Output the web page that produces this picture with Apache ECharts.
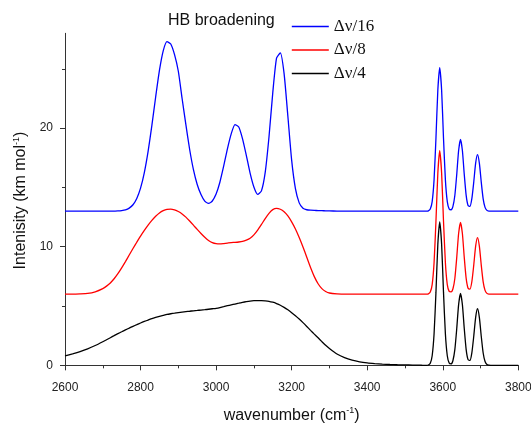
<!DOCTYPE html>
<html><head><meta charset="utf-8">
<script src="https://cdn.jsdelivr.net/npm/echarts@6/dist/echarts.min.js"></script>
<style>html,body{margin:0;padding:0;background:#fff}#c{width:531px;height:423px}</style>
</head><body><div id="c"></div>
<script>
const wavenumbers = [
2600,2620,2640,2660,2680,2700,
2710,2720,2730,2740,2750,2760,2770,2780,2790,2800,
2810,2820,2830,2840,2850,2860,2870,2880,2890,2900,
2910,2920,2930,2940,2950,2960,2970,2980,2990,3000,
3010,3020,3030,3040,3050,3060,3070,3080,3090,3100,
3110,3120,3130,3140,3150,3160,3170,3180,3190,3200,
3210,3220,3230,3240,3250,3260,3270,3280,3290,3300,
3320,3340,3360,3380,3400,3420,3440,3460,3480,3500,3520,3540,
3547,3552,3557,3562,3567,3572,3577,3582,3587,3592,
3597,3602,3607,3612,3617,3622,3627,3632,3637,3642,
3647,3652,3657,3662,3667,3672,3677,3682,3687,3692,
3697,3702,3707,3712,3717,3722,3727,3732,3737,
3760,3780,3800];

const seriesNames = ['\u0394\u03bd/16', '\u0394\u03bd/8', '\u0394\u03bd/4'];

const blueValues = [
13,13,13,13,13,13,
13.00,13.00,13.01,13.02,13.05,13.11,13.26,13.54,14.07,14.94,
16.25,18.04,20.24,22.63,24.87,26.52,27.29,27.1,26.2,24.8,
22.5,20.3,18.2,16.5,15.25,14.4,13.85,13.65,13.86,14.44,
15.44,16.79,18.26,19.52,20.3,20.1,19.1,17.7,16.21,15.04,
14.42,14.71,16.27,19.26,22.98,25.9,26.35,24.6,21.0,17.3,
14.9,13.7,13.25,13.12,13.08,13.06,13.05,13.04,13.03,13.02,
13.01,13,13,13,13,13,13,13,13,13,13,13,
13,13,13,13.03,13.18,13.81,15.64,19.15,23.22,25.1,
23.22,19.15,15.64,13.81,13.19,13.12,13.41,14.32,16.08,18.12,
19.06,18.12,16.08,14.33,13.48,13.41,14.05,15.43,17.03,17.77,
17.03,15.43,14.04,13.32,13.07,13.01,13,13,13,
13,13,13];

const redValues = [
6.0,6.0,6.02,6.06,6.2,6.47,
6.68,6.95,7.3,7.73,8.22,8.75,9.3,9.85,10.38,10.9,
11.38,11.83,12.23,12.57,12.85,13.04,13.15,13.17,13.1,12.97,
12.77,12.5,12.17,11.82,11.46,11.12,10.8,10.53,10.35,10.26,
10.24,10.27,10.31,10.35,10.37,10.4,10.45,10.56,10.72,11.0,
11.4,11.88,12.38,12.82,13.13,13.24,13.16,12.95,12.6,12.1,
11.5,10.78,9.98,9.12,8.25,7.48,6.88,6.47,6.23,6.1,
6.03,6.01,6,6,6,6,6,6,6,6,6,6,
6,6,6,6.03,6.18,6.81,8.64,12.15,16.22,18.1,
16.22,12.15,8.64,6.81,6.24,6.2,6.46,7.32,9.08,11.12,
12.06,11.12,9.08,7.33,6.5,6.43,7.05,8.43,10.03,10.77,
10.03,8.43,7.04,6.32,6.07,6.01,6,6,6,
6,6,6];

const blackValues = [
0.8,0.97,1.16,1.39,1.67,1.99,
2.16,2.33,2.5,2.67,2.83,2.99,3.14,3.29,3.43,3.57,
3.7,3.82,3.94,4.04,4.13,4.21,4.29,4.35,4.4,4.45,
4.49,4.53,4.56,4.6,4.63,4.66,4.69,4.73,4.77,4.81,
4.87,4.95,5.03,5.1,5.17,5.24,5.31,5.37,5.42,5.45,
5.46,5.46,5.44,5.4,5.32,5.21,5.07,4.89,4.68,4.44,
4.18,3.9,3.6,3.28,2.95,2.63,2.32,2.0,1.69,1.42,
0.96,0.65,0.44,0.3,0.21,0.15,0.1,0.07,0.05,0.04,0.02,0.01,
0,0,0,0.03,0.18,0.81,2.64,6.15,10.22,12.1,
10.22,6.15,2.64,0.81,0.19,0.12,0.41,1.32,3.08,5.12,
6.06,5.12,3.08,1.33,0.48,0.41,1.05,2.43,4.03,4.77,
4.03,2.43,1.04,0.32,0.07,0.01,0,0,0,
0,0,0];

const seriesColors = ['#0000ff', '#ff0000', '#000000'];
const yMajorTicks = [0, 10, 20];
const yMinorTicks = [5, 15, 25];

const allValues = [blueValues, redValues, blackValues];
const axisColor = '#333';

const chart = echarts.init(document.getElementById('c'), null, {renderer: 'canvas'});
chart.setOption({
  backgroundColor: '#fff',
  animation: false,
  title: {
    text: 'HB broadening', left: 168, top: 13, padding: 0,
    textStyle: {fontFamily: 'Liberation Sans', fontSize: 16, fontWeight: 'normal', color: '#111'}
  },
  legend: {
    orient: 'vertical', left: 291, top: 18, padding: 0,
    itemWidth: 37, itemHeight: 14, itemGap: 6.5,
    data: seriesNames,
    itemStyle: {opacity: 0},
    lineStyle: {width: 1.6},
    textStyle: {fontFamily: 'Liberation Serif', fontSize: 17, color: '#111'}
  },
  grid: {left: 65, right: 12.7, top: 33.3, bottom: 55.3, containLabel: false, outerBoundsMode: 'none'},
  xAxis: {
    type: 'value', min: 2600, max: 3800, interval: 200,
    axisLine: {lineStyle: {color: axisColor, width: 1}},
    axisTick: {length: 5, lineStyle: {color: axisColor}},
    minorTick: {show: true, splitNumber: 2, length: 3, lineStyle: {color: axisColor}},
    splitLine: {show: false},
    axisLabel: {fontFamily: 'Liberation Sans', fontSize: 12, color: '#222', margin: 13.5,
      formatter: v => String(v)},
    name: 'wavenumber (cm{sup|-1})',
    nameLocation: 'middle', nameGap: 38.5,
    nameTextStyle: {fontFamily: 'Liberation Sans', fontSize: 16, color: '#111',
      rich: {sup: {fontFamily: 'Liberation Sans', fontSize: 9, color: '#111', padding: [0, 0, 9, 0]}}}
  },
  yAxis: [{
    type: 'value', min: -0.2, max: 28,
    axisLine: {show: true, lineStyle: {color: axisColor, width: 1}},
    axisTick: {show: true, length: 5, customValues: yMajorTicks, lineStyle: {color: axisColor}},
    axisLabel: {fontFamily: 'Liberation Sans', fontSize: 12, color: '#222', margin: 12,
      customValues: yMajorTicks, formatter: v => String(v)},
    splitLine: {show: false},
    name: 'Intenisity (km mol{sup|-1})',
    nameLocation: 'middle', nameGap: 28,
    nameTextStyle: {fontFamily: 'Liberation Sans', fontSize: 16, color: '#111',
      rich: {sup: {fontFamily: 'Liberation Sans', fontSize: 9, color: '#111', padding: [0, 0, 9, 0]}}}
  }, {
    type: 'value', min: -0.2, max: 28, position: 'left',
    axisLine: {show: false},
    axisTick: {show: true, length: 3, customValues: yMinorTicks, lineStyle: {color: axisColor}},
    axisLabel: {show: false},
    splitLine: {show: false}
  }],
  series: seriesNames.map((name, k) => ({
    name: name, type: 'line', yAxisIndex: 0,
    data: wavenumbers.map((w, i) => [w, allValues[k][i]]),
    showSymbol: false, symbol: 'none', smooth: 0.2,
    lineStyle: {color: seriesColors[k], width: 1.3},
    itemStyle: {color: seriesColors[k]}
  }))
});
</script></body></html>
